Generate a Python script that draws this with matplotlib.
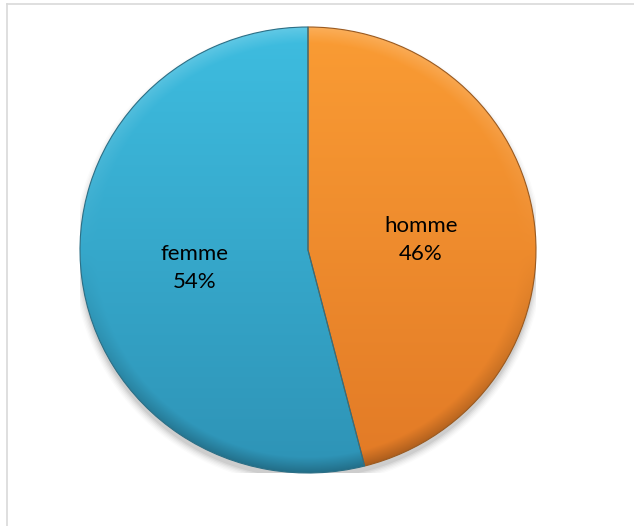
import matplotlib.pyplot as plt
import numpy as np
from matplotlib.lines import Line2D
from matplotlib.patches import Ellipse
from matplotlib.colors import to_rgb

labels = ["homme", "femme"]
shares = [46, 54]
top_colors = ["#fa9c34", "#3ebde0"]
bottom_colors = ["#e27a26", "#2e93b6"]
edge_colors = ["#9a5a20", "#2c6f86"]

plt.rcParams["font.family"] = ["Lato", "DejaVu Sans"]

W, H = 634, 526
fig = plt.figure(figsize=(W / 100, H / 100), dpi=100)
fig.patch.set_facecolor("white")

# thin grey frame along the top and left
fig.add_artist(Line2D([7 / W, 1], [1 - 4 / H, 1 - 4 / H], color="#d9d9d9", lw=1.2))
fig.add_artist(Line2D([7 / W, 7 / W], [0, 1 - 4 / H], color="#d9d9d9", lw=1.2))

cx, cy, rx, ry = 308, 250, 228, 223
ax = fig.add_axes([(cx - rx) / W, (H - cy - ry) / H, 2 * rx / W, 2 * ry / H])

# soft drop shadow under the pie
for i, a in enumerate(np.linspace(0.05, 0.015, 6)):
    ax.add_patch(Ellipse((0, -0.025), 2 + 0.012 * i, 2 + 0.012 * i,
                         color="black", alpha=a, lw=0, zorder=0))

wedges, texts = ax.pie(shares, startangle=90, counterclock=False,
                       radius=1, wedgeprops=dict(facecolor="none", lw=0))

# shaded fill for each slice: vertical gradient plus a bevelled rim
n = 400
xs = np.linspace(-1, 1, n)
X, Y = np.meshgrid(xs, xs[::-1])
R = np.hypot(X, Y)
t = (1 - Y) / 2
for w, c0, c1 in zip(wedges, top_colors, bottom_colors):
    c0, c1 = np.array(to_rgb(c0)), np.array(to_rgb(c1))
    img = c0 * (1 - t[..., None]) + c1 * t[..., None]
    rim = np.clip((R - 0.93) / 0.07, 0, 1)[..., None]
    light = np.clip(Y, 0, 1)[..., None]
    dark = np.clip(-Y, 0, 1)[..., None]
    img = img + rim * light * 0.18 * (1 - img) - rim * dark * 0.25 * img
    im = ax.imshow(np.clip(img, 0, 1), extent=[-1, 1, -1, 1], zorder=1,
                   interpolation="bilinear")
    im.set_clip_path(w)

# slice outlines
outlines, _ = ax.pie(shares, startangle=90, counterclock=False, radius=1,
                     wedgeprops=dict(facecolor="none", lw=0.8, zorder=2))
for o, ec in zip(outlines, edge_colors):
    o.set_edgecolor(ec)

total = sum(shares)
angle = 90
for lab, s in zip(labels, shares):
    mid = np.deg2rad(angle - s / total * 180)
    angle -= s / total * 360
    ax.text(0.5 * np.cos(mid), 0.5 * np.sin(mid) - 0.02, f"{lab}\n{s}%",
            ha="center", va="center", fontsize=16, color="black",
            linespacing=1.5, zorder=3)

ax.set_aspect("auto")
ax.set_xlim(-1, 1)
ax.set_ylim(-1, 1)
ax.axis("off")

fig.savefig("out.png", dpi=100)
